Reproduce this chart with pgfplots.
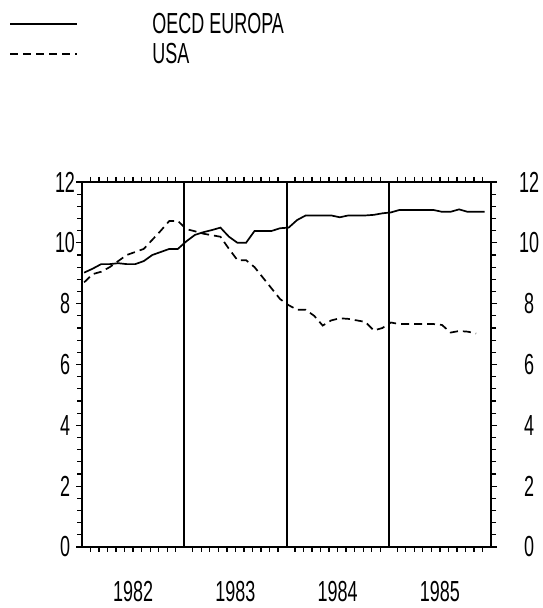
\documentclass[border=0pt]{standalone}
\usepackage{fontspec}
\usepackage{pgfplots}
\usepackage{pgfplotstable}
\pgfplotsset{compat=1.18}
\newfontfamily\plotfont[FakeStretch=0.62]{Liberation Sans}

\pgfplotstableread{
m v
0.25 9.02
1.25 9.15
2.25 9.30
3.25 9.30
4.25 9.33
5.25 9.30
6.25 9.30
7.25 9.40
8.25 9.60
9.25 9.70
10.25 9.80
11.25 9.80
12.25 10.05
13.25 10.26
14.25 10.35
15.25 10.42
16.25 10.50
17.25 10.20
18.25 10.00
19.25 10.00
20.25 10.39
21.25 10.39
22.25 10.39
23.25 10.48
24.25 10.50
25.25 10.75
26.25 10.90
27.25 10.90
28.25 10.90
29.25 10.90
30.25 10.84
31.25 10.90
32.25 10.90
33.25 10.90
34.25 10.92
35.25 10.97
36.25 11.00
37.25 11.08
38.25 11.08
39.25 11.08
40.25 11.08
41.25 11.08
42.25 11.02
43.25 11.02
44.25 11.10
45.25 11.02
46.25 11.02
47.25 11.02
}\europe

\pgfplotstableread{
m v
0.25 8.70
1.25 8.97
2.25 9.05
3.25 9.20
4.25 9.40
5.25 9.60
6.25 9.70
7.25 9.80
8.25 10.10
9.25 10.40
10.25 10.72
11.25 10.72
12.25 10.45
13.25 10.38
14.25 10.30
15.25 10.25
16.25 10.20
17.25 9.80
18.25 9.43
19.25 9.43
20.25 9.20
21.25 8.85
22.25 8.50
23.25 8.15
24.25 7.95
25.25 7.80
26.25 7.80
27.25 7.60
28.25 7.28
29.25 7.45
30.25 7.52
31.25 7.50
32.25 7.45
33.25 7.40
34.25 7.12
35.25 7.20
36.25 7.38
37.25 7.33
38.25 7.33
39.25 7.33
40.25 7.33
41.25 7.33
42.25 7.30
43.25 7.05
44.25 7.10
45.25 7.08
46.25 7.02
}\usa

\begin{document}
\begin{tikzpicture}
\path[use as bounding box] (0,0) rectangle (543pt,608pt);
\begin{axis}[
  at={(82pt,61pt)}, anchor=south west,
  width=409pt, height=365pt, scale only axis,
  xmin=0, xmax=48, ymin=0, ymax=12,
  axis line style={line width=1.8pt},
  tick align=outside,
  xtick={6,18,30,42}, xticklabels={1982,1983,1984,1985},
  major x tick style={draw=none},
  minor xtick={1,2,3,4,5,6,7,8,9,10,11,13,14,15,16,17,18,19,20,21,22,23,25,26,27,28,29,30,31,32,33,34,35,37,38,39,40,41,42,43,44,45,46,47},
  ytick={0,2,4,6,8,10,12}, minor y tick num=4,
  major tick length=6pt, minor tick length=5pt,
  every tick/.style={black, line width=1.3pt},
  /pgf/number format/assume math mode=true,
  tick label style={font=\plotfont\fontsize{29}{32}\selectfont},
  xticklabel style={anchor=center, yshift=-39pt},
  yticklabel style={anchor=center, xshift=-11pt},
  major grid style={black, line width=2pt},
  extra x ticks={12,24.02,36}, extra x tick labels={},
  extra x tick style={grid=major, major tick length=0pt},
  legend style={at={(axis description cs:-0.185,1.474)}, anchor=north west, draw=none, fill=none,
    font=\plotfont\fontsize{29}{32}\selectfont, row sep=4pt, cells={anchor=west}},
  legend image code/.code={\draw[#1] (0pt,0pt) -- (67pt,0pt); \path[draw=none,fill=none] (67pt,0pt) -- (140pt,0pt);},
]
\addplot[black, line width=1.7pt] table[x=m, y=v] {\europe};
\addlegendentry{OECD EUROPA}
\addplot[black, line width=1.7pt, dash pattern=on 8pt off 5pt] table[x=m, y=v] {\usa};
\addlegendentry{USA}
\end{axis}
\begin{axis}[
  at={(82pt,61pt)}, anchor=south west,
  width=409pt, height=365pt, scale only axis,
  xmin=0, xmax=48, ymin=0, ymax=12,
  hide x axis,
  axis y line*=right, y axis line style={draw=none},
  ytick={0,2,4,6,8,10,12}, major tick length=0pt,
  /pgf/number format/assume math mode=true,
  tick label style={font=\plotfont\fontsize{29}{32}\selectfont},
  yticklabel style={anchor=center, xshift=38pt},
]
\end{axis}
\end{tikzpicture}
\end{document}
